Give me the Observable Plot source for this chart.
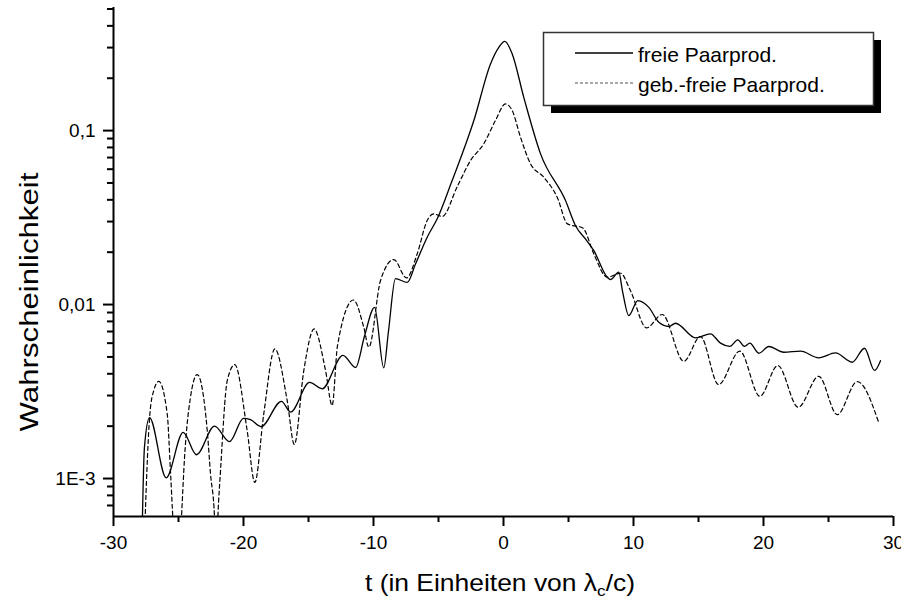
<!DOCTYPE html>
<html><head><meta charset="utf-8">
<script src="https://cdn.jsdelivr.net/npm/d3@7"></script>
<script src="https://cdn.jsdelivr.net/npm/@observablehq/plot@0.6"></script>
<style>body{margin:0;background:#fff;} #chart{width:901px;height:601px;}</style>
</head><body><div id="chart"></div>
<script>
// ---- data ----
const seriesNames = ["freie Paarprod.", "geb.-freie Paarprod."];

const freieT = [-27.85, -27.62, -27.23, -25.95, -24.64, -23.62, -22.23, -21.08, -20.0, -19.46, -18.64, -17.08, -16.38, -14.92, -13.95, -12.35, -11.38, -10.69, -9.92, -9.21, -8.85, -8.31, -7.41, -6.77, -5.87, -5.1, -3.95, -3.56, -2.28, -1.0, -0.36, 0.1, 0.67, 1.56, 2.85, 4.77, 5.54, 6.36, 6.95, 7.98, 8.23, 8.87, 9.15, 9.64, 10.33, 11.18, 11.95, 12.72, 13.23, 14.77, 15.92, 16.69, 17.41, 18.02, 18.54, 18.95, 19.64, 20.41, 21.56, 22.85, 24.25, 25.54, 26.82, 27.77, 28.54, 29.0];
const freieP = [3e-4, 1.51e-3, 2.24e-3, 1.01e-3, 1.84e-3, 1.37e-3, 2.0e-3, 1.63e-3, 2.22e-3, 2.18e-3, 1.99e-3, 2.78e-3, 2.41e-3, 3.57e-3, 3.28e-3, 5.1e-3, 4.35e-3, 6.6e-3, 9.64e-3, 4.33e-3, 7.0e-3, 1.41e-2, 1.34e-2, 1.71e-2, 2.44e-2, 3.11e-2, 5.16e-2, 6.15e-2, 0.1142, 0.2417, 0.301, 0.326, 0.276, 0.1553, 0.0735, 0.0396, 0.0284, 0.02355, 0.0204, 0.01436, 0.01393, 0.01535, 0.0120, 8.65e-3, 0.01054, 9.64e-3, 7.91e-3, 7.48e-3, 7.81e-3, 6.44e-3, 6.79e-3, 6.0e-3, 5.75e-3, 6.27e-3, 5.75e-3, 6.0e-3, 5.25e-3, 5.74e-3, 5.32e-3, 5.40e-3, 4.94e-3, 5.27e-3, 4.66e-3, 5.61e-3, 4.18e-3, 4.76e-3];

const gebT = [-27.7, -27.2, -26.9, -26.52, -25.87, -25.62, -25.44, -25.1, -24.77, -24.54, -24.08, -23.56, -22.79, -22.54, -22.23, -22.1, -21.97, -21.77, -21.25, -20.67, -19.72, -19.13, -18.44, -17.59, -16.64, -16.09, -15.36, -14.57, -13.69, -13.18, -12.77, -11.54, -10.75, -10.36, -9.46, -8.44, -7.46, -6.64, -5.87, -5.36, -4.72, -3.56, -2.54, -1.52, -0.62, 0.15, 0.67, 1.31, 2.08, 3.1, 4.13, 4.92, 6.1, 6.95, 7.98, 9.0, 9.77, 11.0, 12.21, 13.87, 15.15, 16.54, 18.18, 19.72, 21.1, 22.67, 24.25, 25.67, 27.21, 28.87];
const gebP = [3e-4, 2.36e-3, 3.21e-3, 3.62e-3, 2.36e-3, 1.11e-3, 6.0e-4, 2e-4, 6.0e-4, 1.30e-3, 2.93e-3, 3.96e-3, 1.89e-3, 1.07e-3, 6.0e-4, 3e-4, 6.0e-4, 1.10e-3, 3.65e-3, 4.52e-3, 1.89e-3, 9.5e-4, 2.36e-3, 5.56e-3, 2.81e-3, 1.57e-3, 4.18e-3, 7.24e-3, 4.18e-3, 2.63e-3, 5.81e-3, 0.01062, 7.41e-3, 5.69e-3, 0.01375, 0.01815, 0.01422, 0.01954, 0.0304, 0.0332, 0.0321, 0.0476, 0.0673, 0.0839, 0.1142, 0.1423, 0.1303, 0.0915, 0.0644, 0.0539, 0.0414, 0.0291, 0.02754, 0.01954, 0.01436, 0.01514, 0.0120, 7.35e-3, 8.77e-3, 4.72e-3, 6.55e-3, 3.47e-3, 5.40e-3, 2.97e-3, 4.46e-3, 2.57e-3, 3.87e-3, 2.33e-3, 3.61e-3, 2.09e-3];

const xMajorTicks = [-30, -20, -10, 0, 10, 20, 30];
const xMinorTicks = [-25, -15, -5, 5, 15, 25];
const yMajorTicks = [0.1, 0.01, 0.001];
const yMajorLabels = ["0,1", "0,01", "1E-3"];
const yMinorTicks = [7e-4, 8e-4, 9e-4, 2e-3, 3e-3, 4e-3, 5e-3, 6e-3, 7e-3, 8e-3, 9e-3, 0.02, 0.03, 0.04, 0.05, 0.06, 0.07, 0.08, 0.09, 0.2, 0.3, 0.4, 0.5];
const xTitle = ["t (in Einheiten von λ", "c", "/c)"];
const yTitle = "Wahrscheinlichkeit";

// ---- build ----
const FONT = "'Liberation Sans', Arial, sans-serif";
const freie = freieT.map((t, i) => ({t, p: freieP[i]}));
const geb = gebT.map((t, i) => ({t, p: gebP[i]}));
const yLabelMap = new Map(yMajorTicks.map((d, i) => [d, yMajorLabels[i]]));
const yMin = 6.05e-4, yMax = 0.51;

const plot = Plot.plot({
  width: 901, height: 601,
  marginLeft: 113, marginRight: 8, marginTop: 7, marginBottom: 85,
  style: {fontFamily: FONT, color: "#000", background: "#fff", overflow: "visible"},
  x: {domain: [-30, 30]},
  y: {type: "log", domain: [yMin, yMax]},
  marks: [
    Plot.line(geb, {x: "t", y: "p", curve: "monotone-x", stroke: "#000", strokeWidth: 1.2, strokeDasharray: "4,3", clip: true}),
    Plot.line(freie, {x: "t", y: "p", curve: "monotone-x", stroke: "#000", strokeWidth: 1.3, clip: true}),
    Plot.axisX(xMinorTicks, {tickSize: 6, strokeWidth: 2, text: null, label: null}),
    Plot.axisX(xMajorTicks, {tickSize: 10, strokeWidth: 2, tickPadding: 9, fontSize: 19, label: null, tickFormat: d => String(d)}),
    Plot.axisY(yMinorTicks, {tickSize: 6, strokeWidth: 2, text: null, label: null}),
    Plot.axisY(yMajorTicks, {tickSize: 10, strokeWidth: 2, tickPadding: 8, fontSize: 19, label: null, tickFormat: d => yLabelMap.get(d)}),
    Plot.ruleX([-30], {strokeWidth: 2}),
    Plot.ruleY([yMin], {strokeWidth: 2})
  ]
});

const svg = d3.select(plot);

// axis titles
const xt = svg.append("text")
  .attr("transform", "translate(500,591) scale(1.15,1)")
  .attr("text-anchor", "middle").attr("font-family", FONT).attr("font-size", 23).attr("fill", "#000");
xt.append("tspan").text(xTitle[0]);
xt.append("tspan").attr("font-size", 15).attr("dy", 5).text(xTitle[1]);
xt.append("tspan").attr("dy", -5).text(xTitle[2]);

svg.append("text")
  .attr("transform", "translate(38,302) rotate(-90) scale(1.2,1)")
  .attr("text-anchor", "middle").attr("font-family", FONT).attr("font-size", 26).attr("fill", "#000")
  .text(yTitle);

// legend
const lg = svg.append("g").attr("text-anchor", "start");
lg.append("rect").attr("x", 551).attr("y", 40).attr("width", 330).attr("height", 73).attr("fill", "#000");
lg.append("rect").attr("x", 543.5).attr("y", 32.5).attr("width", 330).attr("height", 73)
  .attr("fill", "#fff").attr("stroke", "#333").attr("stroke-width", 1.5);
lg.append("line").attr("x1", 575).attr("x2", 633).attr("y1", 53).attr("y2", 53).attr("stroke", "#000").attr("stroke-width", 1.3);
lg.append("line").attr("x1", 575).attr("x2", 633).attr("y1", 83).attr("y2", 83).attr("stroke", "#555").attr("stroke-width", 1.2).attr("stroke-dasharray", "3,2");
lg.append("text").attr("x", 638).attr("y", 62).attr("text-anchor", "start").attr("font-family", FONT).attr("font-size", 21).attr("fill", "#000").text(seriesNames[0]);
lg.append("text").attr("x", 638).attr("y", 92).attr("text-anchor", "start").attr("font-family", FONT).attr("font-size", 21).attr("fill", "#000").text(seriesNames[1]);

document.getElementById("chart").appendChild(plot);
</script>
</body></html>
